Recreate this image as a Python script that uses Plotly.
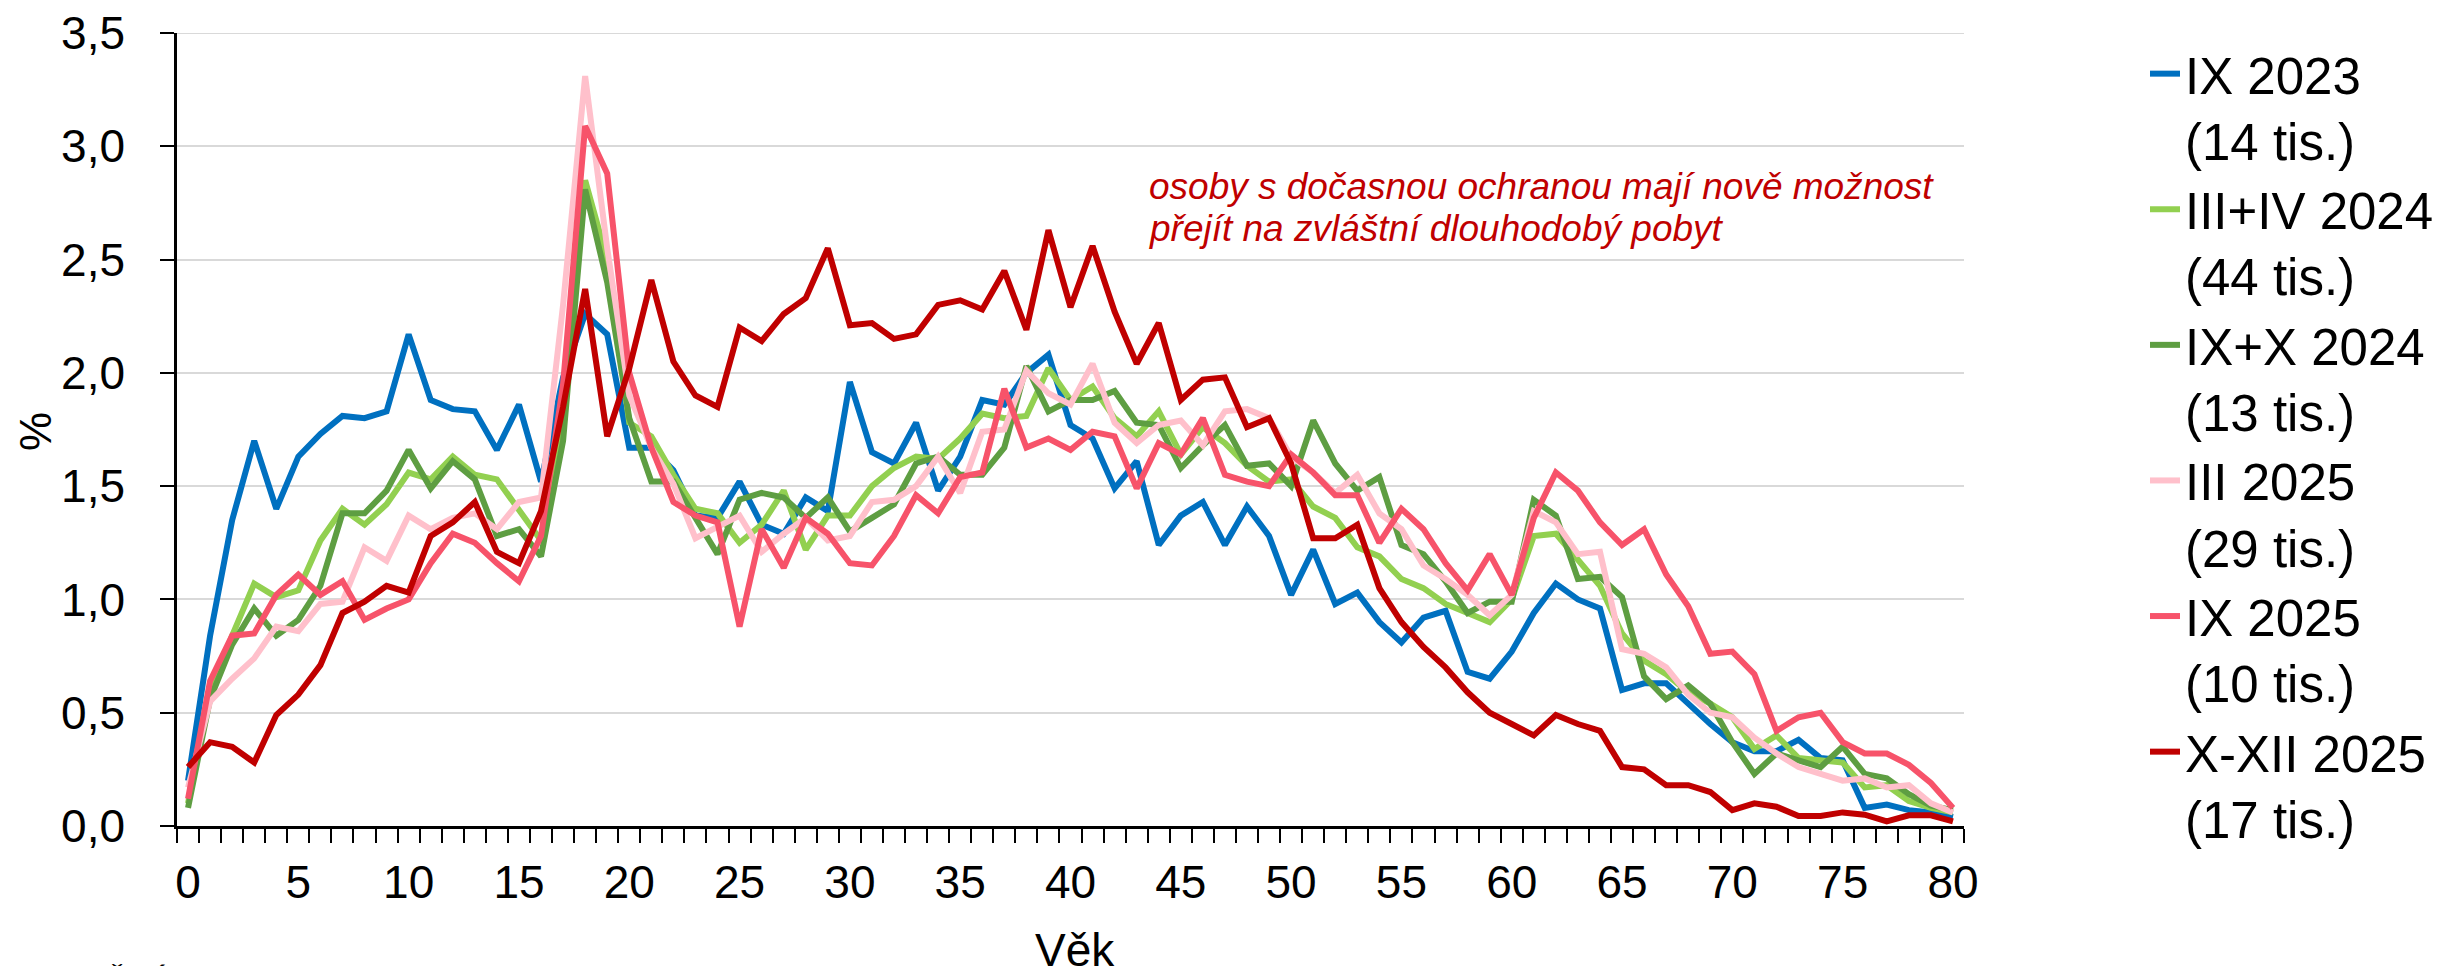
#!/usr/bin/env python3
# Age structure of persons with temporary protection (% by single year of age)

import plotly.graph_objects as go

ages = list(range(0, 81))

ix_2023 = [0.20, 0.84, 1.35, 1.70, 1.40, 1.63, 1.73, 1.81, 1.80, 1.83,
           2.17, 1.88, 1.84, 1.83, 1.66, 1.86, 1.52, 1.98, 2.26, 2.17,
           1.67, 1.67, 1.57, 1.37, 1.36, 1.52, 1.33, 1.29, 1.45, 1.39,
           1.96, 1.65, 1.60, 1.78, 1.48, 1.63, 1.88, 1.86, 2.00, 2.08,
           1.77, 1.71, 1.49, 1.61, 1.24, 1.37, 1.43, 1.24, 1.41, 1.28,
           1.02, 1.22, 0.98, 1.03, 0.90, 0.81, 0.92, 0.95, 0.68, 0.65,
           0.77, 0.94, 1.07, 1.00, 0.96, 0.60, 0.63, 0.63, 0.54, 0.45,
           0.37, 0.33, 0.33, 0.38, 0.30, 0.29, 0.08, 0.095, 0.07, 0.06,
           0.04]

iii_iv_2024 = [0.10, 0.59, 0.84, 1.07, 1.01, 1.04, 1.26, 1.40, 1.33, 1.42,
               1.56, 1.53, 1.63, 1.55, 1.53, 1.40, 1.26, 1.75, 2.85, 2.50,
               1.78, 1.72, 1.55, 1.40, 1.38, 1.25, 1.33, 1.48, 1.22, 1.37,
               1.37, 1.50, 1.58, 1.63, 1.62, 1.71, 1.82, 1.80, 1.81, 2.02,
               1.88, 1.94, 1.80, 1.72, 1.83, 1.64, 1.76, 1.69, 1.59, 1.52,
               1.53, 1.41, 1.36, 1.23, 1.19, 1.09, 1.05, 0.98, 0.94, 0.90,
               1.00, 1.28, 1.29, 1.17, 1.06, 0.85, 0.73, 0.67, 0.59, 0.54,
               0.48, 0.34, 0.40, 0.30, 0.29, 0.28, 0.17, 0.18, 0.11, 0.08,
               0.06]

ix_x_2024 = [0.08, 0.56, 0.80, 0.96, 0.84, 0.91, 1.06, 1.38, 1.38, 1.48,
             1.66, 1.49, 1.61, 1.53, 1.28, 1.31, 1.19, 1.70, 2.81, 2.40,
             1.80, 1.52, 1.52, 1.36, 1.20, 1.44, 1.47, 1.45, 1.36, 1.45,
             1.30, 1.36, 1.42, 1.60, 1.63, 1.55, 1.55, 1.67, 2.03, 1.83,
             1.88, 1.88, 1.92, 1.78, 1.77, 1.58, 1.68, 1.77, 1.59, 1.60,
             1.50, 1.79, 1.60, 1.48, 1.54, 1.24, 1.20, 1.08, 0.94, 0.99,
             0.99, 1.44, 1.37, 1.09, 1.10, 1.01, 0.66, 0.56, 0.62, 0.54,
             0.37, 0.23, 0.32, 0.29, 0.26, 0.35, 0.23, 0.21, 0.14, 0.09,
             0.07]

iii_2025 = [0.17, 0.55, 0.65, 0.74, 0.88, 0.86, 0.98, 0.99, 1.23, 1.17,
            1.37, 1.31, 1.36, 1.38, 1.31, 1.43, 1.45, 2.30, 3.31, 2.55,
            1.90, 1.67, 1.51, 1.27, 1.32, 1.37, 1.21, 1.29, 1.36, 1.26,
            1.28, 1.43, 1.44, 1.50, 1.63, 1.47, 1.74, 1.75, 2.01, 1.91,
            1.86, 2.04, 1.78, 1.69, 1.77, 1.79, 1.68, 1.83, 1.84, 1.80,
            1.63, 1.56, 1.47, 1.55, 1.38, 1.31, 1.15, 1.09, 1.02, 0.93,
            1.02, 1.39, 1.34, 1.20, 1.21, 0.78, 0.76, 0.70, 0.58, 0.50,
            0.48, 0.39, 0.32, 0.26, 0.23, 0.20, 0.21, 0.17, 0.18, 0.10,
            0.06]

ix_2025 = [0.12, 0.64, 0.84, 0.85, 1.02, 1.11, 1.02, 1.08, 0.91, 0.96,
           1.00, 1.16, 1.29, 1.25, 1.16, 1.08, 1.28, 1.95, 3.09, 2.88,
           2.00, 1.67, 1.43, 1.37, 1.34, 0.88, 1.31, 1.14, 1.36, 1.29,
           1.16, 1.15, 1.28, 1.46, 1.38, 1.54, 1.56, 1.93, 1.67, 1.71,
           1.66, 1.74, 1.72, 1.49, 1.69, 1.64, 1.80, 1.55, 1.52, 1.50,
           1.64, 1.56, 1.46, 1.46, 1.25, 1.40, 1.31, 1.16, 1.04, 1.20,
           1.02, 1.36, 1.56, 1.48, 1.34, 1.24, 1.31, 1.11, 0.97, 0.76,
           0.77, 0.67, 0.42, 0.48, 0.50, 0.37, 0.32, 0.32, 0.27, 0.19,
           0.08]

x_xii_2025 = [0.26, 0.37, 0.35, 0.28, 0.49, 0.58, 0.71, 0.94, 0.99, 1.06,
              1.03, 1.28, 1.34, 1.43, 1.21, 1.16, 1.39, 1.85, 2.37, 1.72,
              2.02, 2.41, 2.05, 1.90, 1.85, 2.20, 2.14, 2.26, 2.33, 2.55,
              2.21, 2.22, 2.15, 2.17, 2.30, 2.32, 2.28, 2.45, 2.19, 2.63,
              2.29, 2.56, 2.27, 2.04, 2.22, 1.88, 1.97, 1.98, 1.76, 1.80,
              1.60, 1.27, 1.27, 1.33, 1.05, 0.90, 0.79, 0.70, 0.59, 0.50,
              0.45, 0.40, 0.49, 0.45, 0.42, 0.26, 0.25, 0.18, 0.18, 0.15,
              0.07, 0.10, 0.085, 0.044, 0.044, 0.06, 0.05, 0.02, 0.047, 0.047,
              0.02]

series_names = ['IX 2023<br>(14 tis.)', 'III+IV 2024<br>(44 tis.)', 'IX+X 2024<br>(13 tis.)',
                'III 2025<br>(29 tis.)', 'IX 2025<br>(10 tis.)', 'X-XII 2025<br>(17 tis.)']
series_values = [ix_2023, iii_iv_2024, ix_x_2024, iii_2025, ix_2025, x_xii_2025]
colors = ['#0070C0', '#92D050', '#5E9E42', '#FFC0CB', '#F7536A', '#C00000']

x_ticks = list(range(0, 81, 5))
y_ticks = [0, 0.5, 1.0, 1.5, 2.0, 2.5, 3.0, 3.5]

FONT = 'Arial, Liberation Sans, sans-serif'

# page has an 8px body margin, so work in reference pixels minus that offset
OFF = 8
W, H = 2444 - OFF, 966 - OFF
L, R, T, B = 177 - OFF, 1964 - OFF, 33 - OFF, 826 - OFF


def px_x(p):
    return (p - OFF - L) / (R - L)


def px_y(p):
    return (B - (p - OFF)) / (B - T)


fig = go.Figure()
for name, vals, col in zip(series_names, series_values, colors):
    fig.add_trace(go.Scatter(x=ages, y=vals, name=name, mode='lines',
                             line=dict(color=col, width=6)))

fig.update_layout(
    width=W, height=H,
    margin=dict(l=L, r=W - R, t=T, b=H - B, autoexpand=False),
    plot_bgcolor='white', paper_bgcolor='white',
    separators=', ',
    font=dict(family=FONT, color='black', size=46),
    showlegend=True,
    legend=dict(xref='container', x=(2145 - OFF) / W, xanchor='left',
                yref='container', y=1 - (34 - OFF) / H, yanchor='top',
                valign='top', maxheight=1, font=dict(size=51),
                bgcolor='rgba(0,0,0,0)'),
)

fig.update_xaxes(
    range=[-0.5, 80.5], tickmode='array', tickvals=x_ticks, ticks='',
    ticklabelstandoff=14, tickfont=dict(size=46), automargin=False,
    showline=True, linecolor='black', linewidth=2.5, showgrid=False, zeroline=False,
    minor=dict(tickmode='linear', tick0=-0.5, dtick=1, ticks='outside',
               ticklen=14, tickwidth=2, tickcolor='black', showgrid=False),
)

fig.update_yaxes(
    range=[0, 3.5], tickmode='array', tickvals=y_ticks, tickformat='.1f',
    ticks='outside', ticklen=14, tickwidth=2, tickcolor='black',
    ticklabelstandoff=26, tickfont=dict(size=46), automargin=False,
    ticklabeloverflow='allow',
    showline=True, linecolor='black', linewidth=2.5,
    showgrid=True, gridcolor='#D9D9D9', gridwidth=2, zeroline=False,
)

# top gridline at the end of the value axis (plotly may drop it at the range edge)
fig.add_hline(y=y_ticks[-1], line=dict(color='#D9D9D9', width=2), layer='below')

# axis titles, note and source
fig.add_annotation(text='Věk', xref='paper', yref='paper', x=px_x(1075), y=px_y(950),
                   xanchor='center', yanchor='middle', showarrow=False,
                   font=dict(size=46))
fig.add_annotation(text='%', xref='paper', yref='paper', x=px_x(35), y=px_y(432),
                   xanchor='center', yanchor='middle', showarrow=False, textangle=-90,
                   font=dict(size=44))
fig.add_annotation(text='<i>osoby s dočasnou ochranou mají nově možnost</i>',
                   xref='paper', yref='paper', x=px_x(1147), y=px_y(186),
                   xanchor='left', yanchor='middle', showarrow=False,
                   font=dict(size=37, color='#C00000'))
fig.add_annotation(text='<i>přejít na zvláštní dlouhodobý pobyt</i>',
                   xref='paper', yref='paper', x=px_x(1147), y=px_y(229),
                   xanchor='left', yanchor='middle', showarrow=False,
                   font=dict(size=37, color='#C00000'))
fig.add_annotation(text='Zdroj: ČSÚ', xref='paper', yref='paper', x=px_x(12), y=px_y(961),
                   xanchor='left', yanchor='top', showarrow=False,
                   font=dict(size=32))

fig.write_html("out.html")
